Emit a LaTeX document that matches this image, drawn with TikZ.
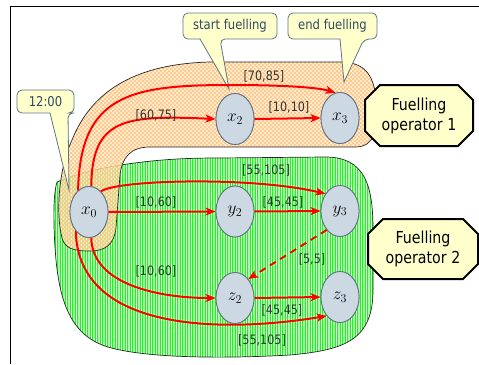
\documentclass[tikz,border=0pt]{standalone}
\usepackage{fontspec}
\setmainfont[FakeStretch=0.86]{DejaVu Sans}
\usetikzlibrary{shapes.geometric,arrows.meta}

\definecolor{bubblefill}{HTML}{FFFFCC}
\definecolor{bubbleline}{HTML}{5E7585}
\definecolor{bubbletext}{HTML}{2E4A5C}
\definecolor{statefill}{HTML}{CDD9E2}
\definecolor{stateline}{HTML}{5E7080}
\definecolor{flowred}{HTML}{FF0000}
\definecolor{greenstripe}{HTML}{1EF51E}
\definecolor{greenbase}{HTML}{F0FFF0}
\definecolor{orangebase}{HTML}{FFEAD0}
\definecolor{orangesq}{HTML}{FFC070}

% area covered by fuelling operator 2
\newcommand{\opTwoArea}{(57,182) .. controls (80,172) and (110,166) .. (135,163)
  .. controls (165,159) and (190,158) .. (220,158) -- (325,157)
  .. controls (365,157) and (373,185) .. (373,230) -- (373,290)
  .. controls (373,340) and (345,350) .. (290,355)
  .. controls (220,359) and (140,358) .. (105,346)
  .. controls (70,334) and (60,300) .. (56,260)
  .. controls (53,225) and (53,195) .. (57,182) -- cycle}
% area covered by fuelling operator 1
\newcommand{\opOneArea}{(62,238) .. controls (55,210) and (60,165) .. (72,140)
  .. controls (90,95) and (130,64) .. (210,62) -- (340,62)
  .. controls (362,62) and (374,72) .. (376,100)
  .. controls (378,130) and (375,147) .. (355,147) -- (150,147)
  .. controls (130,147) and (122,158) .. (120,175) -- (116,228)
  .. controls (114,245) and (105,251) .. (90,251)
  .. controls (72,251) and (65,248) .. (62,238) -- cycle}

\tikzset{
  regionline/.style={draw=black!85, line width=0.7pt},
  statenode/.style={ellipse, draw=stateline, fill=statefill, line width=0.8pt,
    minimum width=38pt, minimum height=51pt, inner sep=0pt,
    font=\fontsize{17.5}{17.5}\selectfont},
  flow/.style={draw=flowred, line width=2pt,
    -{Stealth[length=10pt,width=8pt,inset=2.5pt]}},
  lbl/.style={font=\fontsize{13}{13}\selectfont, text=black!80, inner sep=0pt},
  bubble/.style={draw=bubbleline, fill=bubblefill, line width=0.8pt},
  bubbletxt/.style={font=\fontsize{13.5}{13.5}\selectfont, text=bubbletext, inner sep=0pt},
  opbox/.style={draw=black, fill=bubblefill, line width=2pt, line join=miter},
  optxt/.style={font=\fontsize{16.5}{20}\selectfont, align=center, inner sep=0pt},
}

\begin{document}
\begin{tikzpicture}[x=1pt,y=-1pt]
\useasboundingbox (0,0) rectangle (479,364);

% frame
\draw[line width=0.8pt] (479,6) -- (10,6) -- (10,364);

% operator 2 area: fine vertical green stripes
\begin{scope}
  \clip \opTwoArea;
  \fill[greenbase] (50,150) rectangle (380,362);
  \fill[greenstripe] \foreach \i in {0,...,131} {(52+2.5*\i,150) rectangle ++(1.4,212)};
\end{scope}
\draw[regionline] \opTwoArea;

% operator 1 area: small translucent orange checkerboard
\begin{scope}
  \clip \opOneArea;
  \fill[orangebase, fill opacity=0.75] (50,55) rectangle (385,256);
  \fill[orangesq, fill opacity=0.75, even odd rule]
    \foreach \i in {0,...,83} {(52+4*\i,55) rectangle ++(2,201)}
    \foreach \j in {0,...,50} {(50,56+4*\j) rectangle ++(335,2)};
\end{scope}
\draw[regionline] \opOneArea;

% callouts
\draw[bubble] (17,101) [rounded corners=5] |- (74,90) |- (68,113) [sharp corners] -- (69,190) -- (50,113) [rounded corners=5] -| (17,101) -- cycle;
\node[bubbletxt] (noon) at (45.5,101.5) {12:00};
\draw[bubble] (183,26) [rounded corners=5] |- (277,13) |- (220,39) [sharp corners] -- (229,89) -- (200,39) [rounded corners=5] -| (183,26) -- cycle;
\node[bubbletxt] (startf) at (230,26) {start fuelling};
\draw[bubble] (288,26) [rounded corners=5] |- (377,13) |- (364,39) [sharp corners] -- (344,82) -- (340,39) [rounded corners=5] -| (288,26) -- cycle;
\node[bubbletxt] (endf) at (332.5,26) {end fuelling};

% state nodes (placed first so connectors can refer to them)
\path node[statenode] (x0) at (89,212) {}
      node[statenode] (x2) at (235,119) {}
      node[statenode] (x3) at (340,118) {}
      node[statenode] (y2) at (235,211.5) {}
      node[statenode] (y3) at (340,211) {}
      node[statenode] (z2) at (235,298) {}
      node[statenode] (z3) at (340,297) {};

% connectors
\draw[flow] (x0.117) .. controls (80,95) and (130,85) .. (230,85)
  .. controls (290,85) and (320,88) .. (x3.100);
\draw[flow] (x0.85) .. controls (92,118) and (125,115) .. (x2.west);
\draw[flow] (x2.east) -- (x3.west);
\draw[flow] (x0.60) .. controls (115,180) and (250,176) .. (y3.130);
\draw[flow] (x0.east) -- (y2.west);
\draw[flow] (y2.east) -- (y3.west);
\draw[flow, dash pattern=on 7pt off 5pt] (y3.235) -- (z2.55);
\draw[flow] (x0.275) .. controls (92,285) and (160,298) .. (z2.west);
\draw[flow] (z2.east) -- (z3.west);
\draw[flow] (x0.235) .. controls (78,335) and (230,332) .. (z3.235);

% state nodes drawn on top of the connectors
\node[statenode] at (x0) {$x_0$};
\node[statenode] at (x2) {$x_2$};
\node[statenode] at (x3) {$x_3$};
\node[statenode] at (y2) {$y_2$};
\node[statenode] at (y3) {$y_3$};
\node[statenode] at (z2) {$z_2$};
\node[statenode] at (z3) {$z_3$};

% operators
\draw[opbox] (380,85) -- (458,85) -- (473,100) -- (473,131) -- (458,146) -- (380,146) -- (365,131) -- (365,100) -- cycle;
\node[optxt] (op1) at (419,115.5) {Fuelling\\operator 1};
\draw[opbox] (383,219) -- (463,219) -- (478,234) -- (478,264) -- (463,279) -- (383,279) -- (368,264) -- (368,234) -- cycle;
\node[optxt] (op2) at (423,249) {Fuelling\\operator 2};

% interval labels
\node[lbl] (l1) at (156,115) {[60,75]};
\node[lbl] (l2) at (264,76) {[70,85]};
\node[lbl] (l3) at (289,107) {[10,10]};
\node[lbl] (l4) at (266,170) {[55,105]};
\node[lbl] (l5) at (156,202) {[10,60]};
\node[lbl] (l6) at (283,202) {[45,45]};
\node[lbl] (l7) at (312,259) {[5,5]};
\node[lbl] (l8) at (156,271) {[10,60]};
\node[lbl] (l9) at (282,310) {[45,45]};
\node[lbl] (l10) at (262,340) {[55,105]};
\end{tikzpicture}
\end{document}
